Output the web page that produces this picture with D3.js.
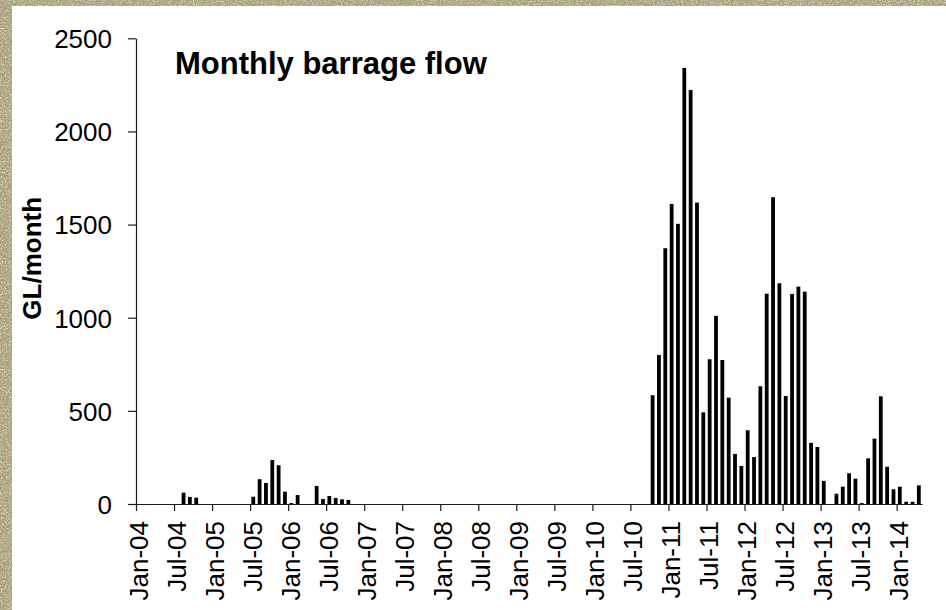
<!DOCTYPE html>
<html>
<head>
<meta charset="utf-8">
<script src="https://cdn.jsdelivr.net/npm/d3@7"></script>
<style>
  html, body { margin: 0; padding: 0; background: #fff; }
  svg { display: block; }
  text { font-family: "Liberation Sans", Arial, sans-serif; fill: #000; }
</style>
</head>
<body>
<svg id="chart" width="946" height="610"></svg>
<script>
// ---- data (monthly, Jan-04 .. Apr-14) ----
const startYear = 2004;
const flow2004 = [0, 0, 0, 0, 0, 0, 0, 61, 38, 34, 0, 0];
const flow2005 = [0, 0, 0, 0, 0, 0, 39, 133, 113, 236, 208, 66];
const flow2006 = [5, 48, 0, 0, 97, 27, 43, 32, 25, 22, 0, 0];
const flow2007 = [0, 0, 0, 0, 0, 0, 0, 0, 0, 0, 0, 0];
const flow2008 = [0, 0, 0, 0, 0, 0, 0, 0, 0, 0, 0, 0];
const flow2009 = [0, 0, 0, 0, 0, 0, 0, 0, 0, 0, 0, 0];
const flow2010 = [0, 0, 0, 0, 0, 0, 0, 0, 0, 584, 800, 1373];
const flow2011 = [1611, 1504, 2341, 2222, 1618, 492, 777, 1010, 773, 571, 269, 204];
const flow2012 = [396, 252, 632, 1129, 1647, 1185, 580, 1128, 1167, 1140, 328, 306];
const flow2013 = [124, 0, 55, 93, 165, 136, 5, 245, 351, 578, 200, 79];
const flow2014 = [93, 12, 12, 100];
const values = [].concat(flow2004, flow2005, flow2006, flow2007, flow2008, flow2009,
                         flow2010, flow2011, flow2012, flow2013, flow2014);
const monthNames = ["Jan","Feb","Mar","Apr","May","Jun","Jul","Aug","Sep","Oct","Nov","Dec"];
const categories = values.map((v, i) =>
  monthNames[i % 12] + "-" + String((startYear + Math.floor(i / 12)) % 100).padStart(2, "0"));
const tickLabels = ["Jan-04","Jul-04","Jan-05","Jul-05","Jan-06","Jul-06","Jan-07","Jul-07",
  "Jan-08","Jul-08","Jan-09","Jul-09","Jan-10","Jul-10","Jan-11","Jul-11","Jan-12","Jul-12",
  "Jan-13","Jul-13","Jan-14"];
const yTicks = [0, 500, 1000, 1500, 2000, 2500];
const title = "Monthly barrage flow";
const yLabel = "GL/month";

// ---- layout ----
const W = 946, H = 610;
const plotLeft = 136, plotRight = 922, plotTop = 38.3, plotBottom = 504;

const svg = d3.select("#chart");
const defs = svg.append("defs");

// textured tan frame
const f1 = defs.append("filter").attr("id", "grainLight").attr("x", 0).attr("y", 0).attr("width", 1).attr("height", 1);
f1.append("feTurbulence").attr("type", "fractalNoise").attr("baseFrequency", 0.75).attr("numOctaves", 2).attr("seed", 7);
f1.append("feColorMatrix").attr("type", "matrix")
  .attr("values", "0 0 0 0 0.90  0 0 0 0 0.86  0 0 0 0 0.76  3.2 0 0 0 -1.55");
const f2 = defs.append("filter").attr("id", "grainDark").attr("x", 0).attr("y", 0).attr("width", 1).attr("height", 1);
f2.append("feTurbulence").attr("type", "fractalNoise").attr("baseFrequency", 0.6).attr("numOctaves", 2).attr("seed", 19);
f2.append("feColorMatrix").attr("type", "matrix")
  .attr("values", "0 0 0 0 0.45  0 0 0 0 0.41  0 0 0 0 0.30  0 2.6 0 0 -1.25");

svg.append("rect").attr("width", W).attr("height", H).attr("fill", "#aa9e7b");
svg.append("rect").attr("width", W).attr("height", H).attr("filter", "url(#grainDark)").attr("opacity", 0.8);
svg.append("rect").attr("width", W).attr("height", H).attr("filter", "url(#grainLight)").attr("opacity", 0.9);
svg.append("rect").attr("x", 12).attr("y", 6).attr("width", W - 12).attr("height", H - 6).attr("fill", "#fff");

// ---- scales ----
const xBand = d3.scaleBand().domain(categories).range([plotLeft, plotRight])
  .paddingInner(0.4).paddingOuter(0.2);
const xIdx = d3.scaleLinear().domain([0, categories.length]).range([plotLeft, plotRight]);
const y = d3.scaleLinear().domain([0, 2500]).range([plotBottom, plotTop]);

// ---- bars ----
svg.append("g").selectAll("rect").data(values).join("rect")
  .attr("x", (d, i) => xBand(categories[i]))
  .attr("width", xBand.bandwidth())
  .attr("y", d => y(d))
  .attr("height", d => y(0) - y(d))
  .attr("fill", "#000");

// ---- axes ----
const yAxis = d3.axisLeft(y).tickValues(yTicks).tickSize(8).tickSizeOuter(0).tickPadding(16)
  .tickFormat(d3.format("d"));
const gy = svg.append("g").attr("transform", `translate(${plotLeft},0)`).call(yAxis);
gy.selectAll("text").style("font-size", "26px").attr("dy", "0.36em");

const xAxis = d3.axisBottom(xIdx).tickValues(d3.range(0, 121, 6)).tickSize(7).tickSizeOuter(0)
  .tickFormat((d, i) => tickLabels[i]);
const gx = svg.append("g").attr("transform", `translate(0,${plotBottom})`).call(xAxis);
gx.selectAll("text")
  .style("font-size", "26px")
  .attr("text-anchor", "end")
  .attr("transform", "rotate(-90)")
  .attr("x", -17)
  .attr("y", 0)
  .attr("dy", "11px");

svg.selectAll(".domain, .tick line").attr("stroke", "#1a1a1a").attr("stroke-width", 1.2);

// ---- title and axis label ----
svg.append("text").attr("x", 175).attr("y", 74.3)
  .style("font-size", "31px").style("font-weight", "bold").text(title);

svg.append("text")
  .attr("transform", "translate(40.5,258.3) rotate(-90)")
  .attr("text-anchor", "middle")
  .style("font-size", "26px").style("font-weight", "bold").text(yLabel);
</script>
</body>
</html>
